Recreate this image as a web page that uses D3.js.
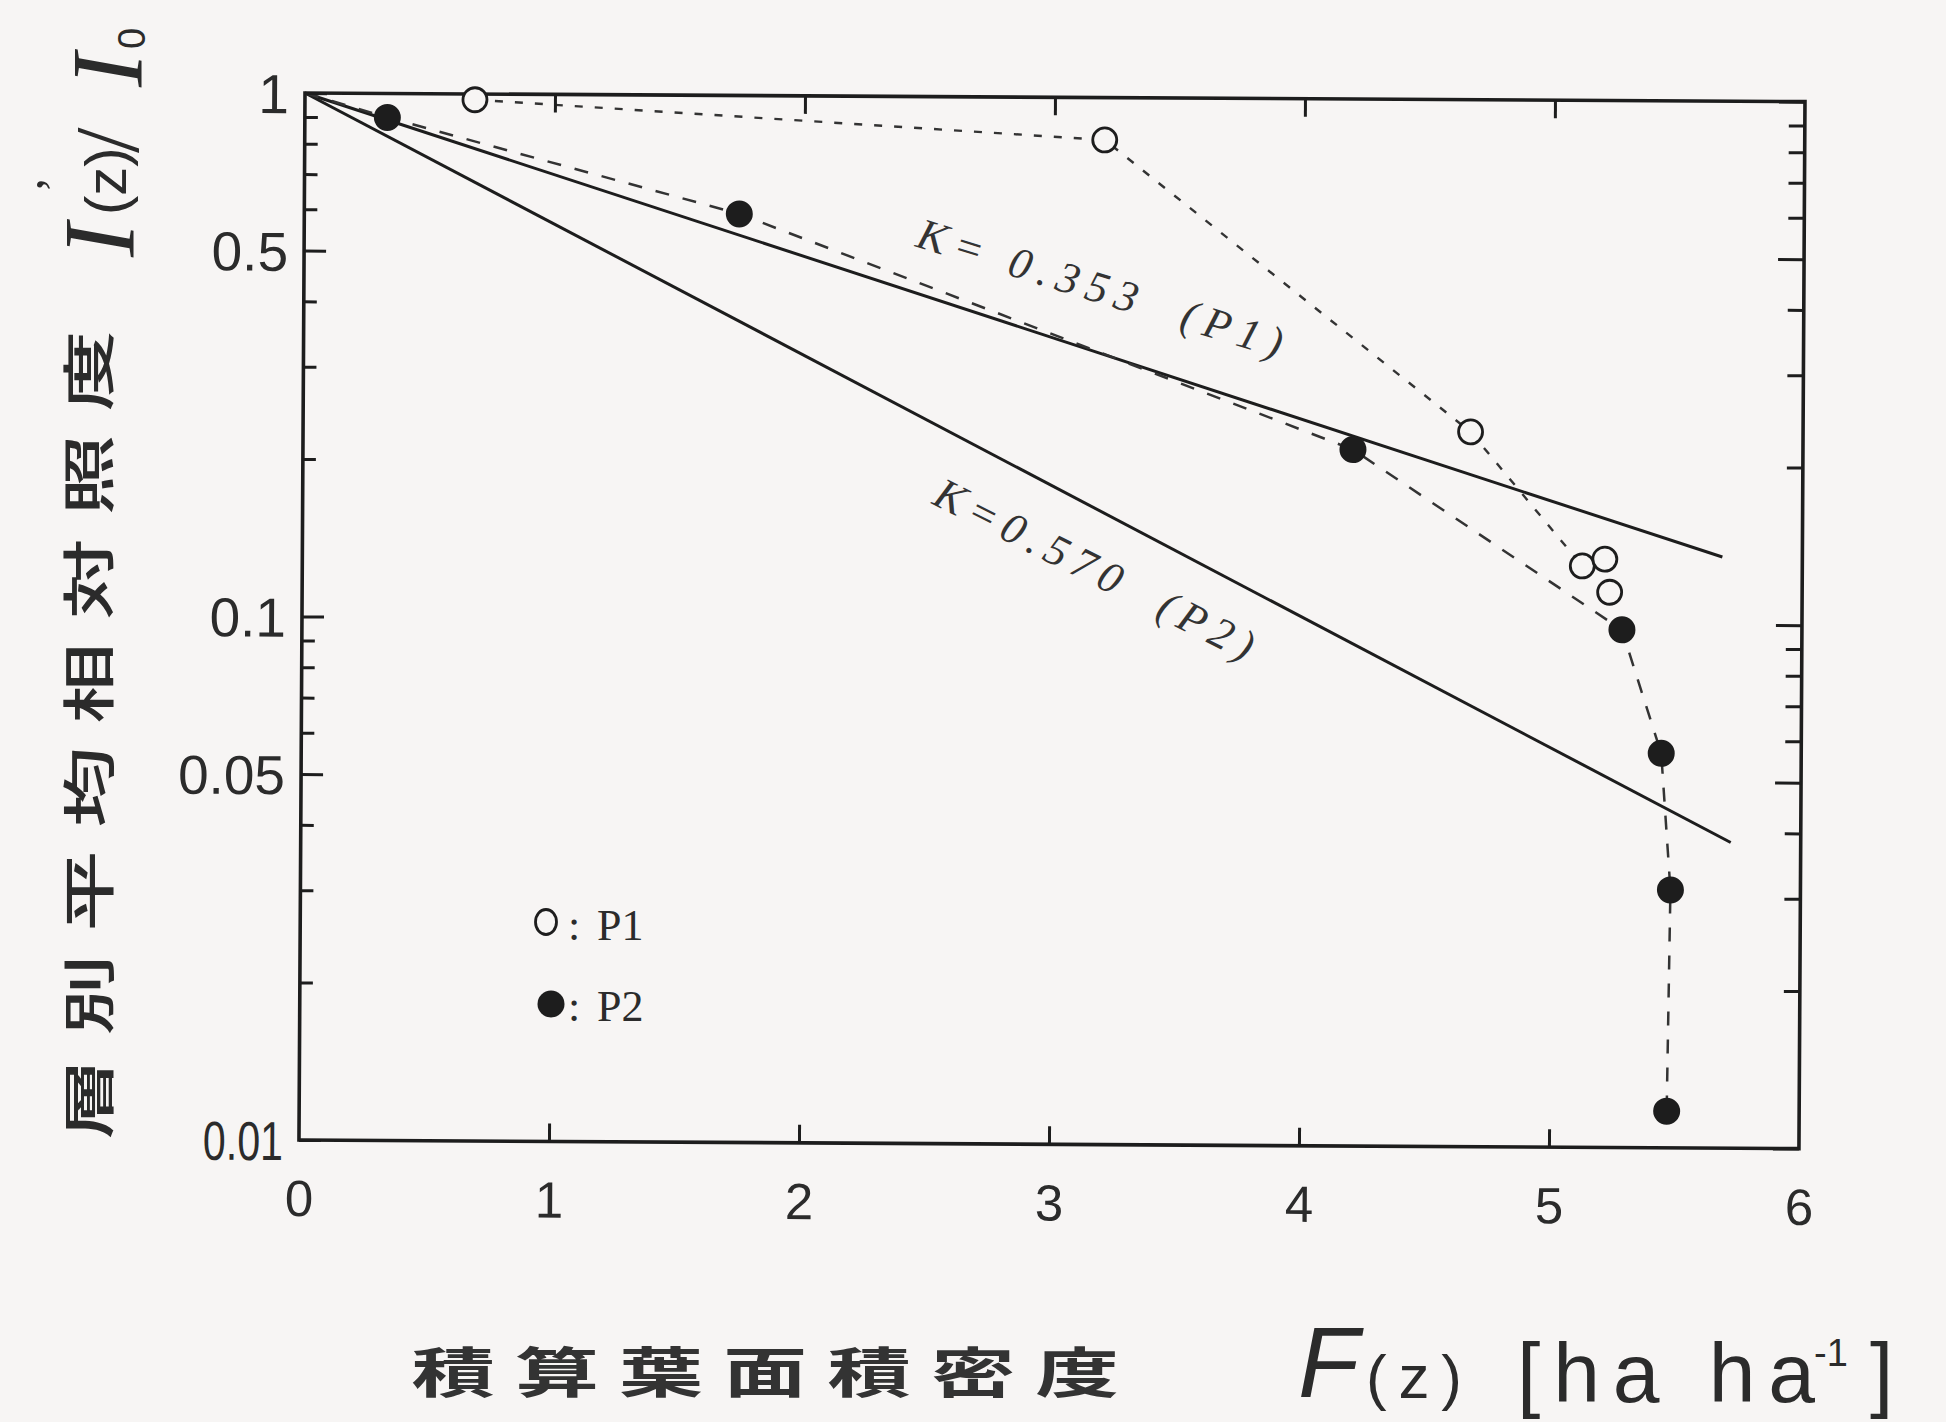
<!DOCTYPE html>
<html>
<head>
<meta charset="utf-8">
<script src="https://cdn.jsdelivr.net/npm/d3@7"></script>
<style>
  html, body { margin: 0; padding: 0; background: #f7f5f4; }
  svg { display: block; }
</style>
</head>
<body>
<svg id="chart" width="1946" height="1422"></svg>
<script>
// Plot P1 (open circles): cumulative leaf area index F(z) and relative light I(z)/I0
const p1F = [0.68, 3.20, 4.67, 5.12, 5.21, 5.23];
const p1I = [0.975, 0.83, 0.232, 0.129, 0.133, 0.115];

// Plot P2 (filled circles)
const p2F = [0.33, 1.74, 4.20, 5.28, 5.44, 5.48, 5.47];
const p2I = [0.90, 0.594, 0.214, 0.0975, 0.0567, 0.0311, 0.01175];

// Canopy top, where the P2 profile starts
const canopyTopF = 0;
const canopyTopI = 1;

// Beer-Lambert fits I/I0 = exp(-K F)
const kValues = [0.353, 0.570];
const kNames = ["K= 0.353  (P1)", "K=0.570  (P2)"];
const kEndF = [5.68, 5.72];
const kLabelF = [2.39, 2.64];

// Axis ticks
const xTicks = [0, 1, 2, 3, 4, 5, 6];
const xInnerTicks = [1, 2, 3, 4, 5];
const yMajorTicks = [1, 0.5, 0.1, 0.05, 0.01];
const yMinorTicks = [0.9, 0.8, 0.7, 0.6, 0.4, 0.3, 0.2, 0.09, 0.08, 0.07, 0.06, 0.04, 0.03, 0.02];

// Titles
const yTitleChars = ["層", "別", "平", "均", "相", "対", "照", "度"];
const xTitleChars = ["積", "算", "葉", "面", "積", "密", "度"];

const ink = "#1d1d1d";
const textInk = "#2b2b2b";
const paper = "#f7f5f4";

const svg = d3.select("#chart");
svg.append("rect").attr("width", 1946).attr("height", 1422).attr("fill", paper);

const plotLeft = 305, plotTop = 93, plotW = 1500, plotH = 1047;

const x = d3.scaleLinear().domain([0, 6]).range([0, plotW]);
const y = d3.scaleLog().domain([0.01, 1]).range([plotH, 0]);

// the whole frame sits very slightly turned clockwise
const g = svg.append("g").attr("transform", `translate(${plotLeft},${plotTop}) rotate(0.33)`);

// ---- fitted extinction lines ----
kValues.forEach((k, i) => {
  const pts = [0, kEndF[i]].map(f => [x(f), y(Math.exp(-k * f))]);
  g.append("path")
    .attr("d", d3.line()(pts))
    .attr("fill", "none")
    .attr("stroke", ink)
    .attr("stroke-width", 3);
});

// ---- measured profiles, dashed ----
const lineGen = d3.line().x(d => x(d[0])).y(d => y(d[1]));
const p1Pts = p1F.map((f, i) => [f, p1I[i]]);
const p2Pts = [[canopyTopF, canopyTopI]].concat(p2F.map((f, i) => [f, p2I[i]]));

g.append("path")
  .attr("d", lineGen(p1Pts))
  .attr("fill", "none")
  .attr("stroke", "#333")
  .attr("stroke-width", 2.4)
  .attr("stroke-dasharray", "8,12");

g.append("path")
  .attr("d", lineGen(p2Pts))
  .attr("fill", "none")
  .attr("stroke", "#333")
  .attr("stroke-width", 2.5)
  .attr("stroke-dasharray", "14,14");

// ---- frame and ticks ----
g.append("rect")
  .attr("x", 0).attr("y", 0)
  .attr("width", plotW).attr("height", plotH)
  .attr("fill", "none")
  .attr("stroke", ink)
  .attr("stroke-width", 3.6);

function styleAxis(sel) {
  sel.select(".domain").remove();
  sel.selectAll(".tick line").attr("stroke", ink).attr("stroke-width", 3);
}

const tickFont = "'Liberation Sans', Arial, sans-serif";

// bottom: inward ticks and labels 0..6
g.append("g")
  .attr("transform", `translate(0,${plotH})`)
  .call(d3.axisBottom(x).tickValues(xInnerTicks).tickSize(-18).tickFormat(""))
  .call(styleAxis);

g.append("g")
  .attr("transform", `translate(0,${plotH})`)
  .call(d3.axisBottom(x).tickValues(xTicks).tickSize(0).tickPadding(40).tickFormat(d3.format("d")))
  .call(styleAxis)
  .call(s => s.selectAll(".tick line").remove())
  .call(s => s.selectAll("text")
    .attr("font-family", tickFont)
    .attr("font-size", 51)
    .attr("fill", textInk));

// top: inward ticks
g.append("g")
  .call(d3.axisTop(x).tickValues(xInnerTicks).tickSize(-18).tickFormat(""))
  .call(styleAxis);

// left: major ticks with labels, minor ticks
g.append("g")
  .call(d3.axisLeft(y).tickValues(yMajorTicks).tickSize(-22).tickPadding(16)
    .tickFormat(d => String(d)))
  .call(styleAxis)
  .call(s => s.selectAll("text")
    .attr("font-family", tickFont)
    .attr("font-size", 55)
    .attr("fill", textInk)
    .attr("dy", "0.36em")
    .filter(d => d === 0.01)
    .attr("textLength", 80)
    .attr("lengthAdjust", "spacingAndGlyphs"));

g.append("g")
  .call(d3.axisLeft(y).tickValues(yMinorTicks).tickSize(-13).tickFormat(""))
  .call(styleAxis);

// right: mirrored ticks
g.append("g")
  .attr("transform", `translate(${plotW},0)`)
  .call(d3.axisRight(y).tickValues(yMajorTicks).tickSize(-26).tickFormat(""))
  .call(styleAxis);

g.append("g")
  .attr("transform", `translate(${plotW},0)`)
  .call(d3.axisRight(y).tickValues(yMinorTicks).tickSize(-16).tickFormat(""))
  .call(styleAxis);

// ---- markers ----
g.append("g").selectAll("circle")
  .data(p1Pts)
  .join("circle")
  .attr("cx", d => x(d[0]))
  .attr("cy", d => y(d[1]))
  .attr("r", 12)
  .attr("fill", paper)
  .attr("stroke", ink)
  .attr("stroke-width", 2.8);

g.append("g").selectAll("circle")
  .data(p2F.map((f, i) => [f, p2I[i]]))
  .join("circle")
  .attr("cx", d => x(d[0]))
  .attr("cy", d => y(d[1]))
  .attr("r", 13.5)
  .attr("fill", ink);

// ---- K labels along the fitted lines ----
const labelOffset = [-44, 72];
const labelLength = [380, 352];
kValues.forEach((k, i) => {
  const f0 = 0, f1 = kEndF[i];
  const ang = Math.atan2(y(Math.exp(-k * f1)) - y(Math.exp(-k * f0)), x(f1) - x(f0)) * 180 / Math.PI - 1;
  const fa = kLabelF[i];
  g.append("text")
    .attr("transform", `translate(${x(fa)},${y(Math.exp(-k * fa))}) rotate(${ang})`)
    .attr("x", 0).attr("y", labelOffset[i])
    .attr("xml:space", "preserve")
    .style("white-space", "pre")
    .attr("font-family", "'Liberation Serif', 'Times New Roman', serif")
    .attr("font-style", "italic")
    .attr("font-size", 44)
    .attr("textLength", labelLength[i])
    .attr("lengthAdjust", "spacing")
    .attr("fill", "#333")
    .text(kNames[i]);
});

// ---- legend ----
const lg = svg.append("g");
lg.append("ellipse").attr("cx", 546).attr("cy", 922).attr("rx", 10.5).attr("ry", 12.5)
  .attr("fill", "none").attr("stroke", ink).attr("stroke-width", 2.8);
lg.append("circle").attr("cx", 551).attr("cy", 1004).attr("r", 13.5).attr("fill", ink);
const legendFont = "'Liberation Serif', 'Times New Roman', serif";
[[940, "P1"], [1021, "P2"]].forEach(([by, name]) => {
  lg.append("text").attr("x", 568).attr("y", by).attr("font-family", legendFont)
    .attr("font-size", 44).attr("fill", textInk).text(":");
  lg.append("text").attr("x", 597).attr("y", by).attr("font-family", legendFont)
    .attr("font-size", 44).attr("fill", textInk).text(name);
});

// ---- y axis title (vertical, bottom to top) ----
const cjk = "'Noto Sans CJK JP', 'Noto Sans CJK SC', sans-serif";
yTitleChars.forEach((c, i) => {
  svg.append("text")
    .attr("transform", `translate(85,${1099 - 104 * i}) rotate(-90) scale(1.5,1)`)
    .attr("text-anchor", "middle")
    .attr("dominant-baseline", "central")
    .attr("font-family", cjk)
    .attr("font-weight", 500)
    .attr("font-size", 54)
    .attr("fill", textInk)
    .text(c);
});

// I'(z) / I0
const iq = svg.append("g").attr("transform", "translate(134,257) rotate(-90)");
const serif = "'Liberation Serif', 'Times New Roman', serif";
iq.append("text").attr("x", 0).attr("y", 0).attr("font-family", serif)
  .attr("font-style", "italic").attr("font-size", 102).attr("fill", textInk).text("I");
iq.append("text").attr("x", 64).attr("y", -64).attr("font-family", serif)
  .attr("font-size", 50).attr("fill", textInk).text("’");
iq.append("text").attr("x", 42).attr("y", -8).attr("font-family", "'Liberation Sans', Arial, sans-serif")
  .attr("font-size", 58).attr("fill", textInk).text("(z)");
iq.append("text").attr("x", 104).attr("y", 4).attr("font-family", serif)
  .attr("font-size", 92).attr("fill", textInk).text("/");
iq.append("text").attr("x", 170).attr("y", 8).attr("font-family", serif)
  .attr("font-style", "italic").attr("font-size", 102).attr("fill", textInk).text("I");
iq.append("text").attr("x", 208).attr("y", 11).attr("font-family", "'Liberation Sans', Arial, sans-serif")
  .attr("font-size", 38).attr("fill", textInk).text("0");

// ---- x axis title ----
xTitleChars.forEach((c, i) => {
  svg.append("text")
    .attr("transform", `translate(${453 + 104 * i},1369) scale(1.55,1)`)
    .attr("text-anchor", "middle")
    .attr("dominant-baseline", "central")
    .attr("font-family", cjk)
    .attr("font-weight", 700)
    .attr("font-size", 54)
    .attr("fill", "#333")
    .text(c);
});

const sans = "'Liberation Sans', Arial, sans-serif";
svg.append("text").attr("x", 1298).attr("y", 1397).attr("font-family", sans)
  .attr("font-style", "italic").attr("font-size", 100).attr("fill", textInk).text("F");
svg.append("text").attr("x", 1366).attr("y", 1398).attr("font-family", sans)
  .attr("font-size", 62).attr("fill", textInk)
  .attr("textLength", 96).attr("lengthAdjust", "spacing").text("(z)");
svg.append("text").attr("x", 1517).attr("y", 1402).attr("font-family", sans)
  .attr("font-size", 84).attr("fill", textInk)
  .attr("xml:space", "preserve").style("white-space", "pre")
  .attr("textLength", 298).attr("lengthAdjust", "spacing").text("[ha ha");
svg.append("text").attr("x", 1814).attr("y", 1366).attr("font-family", sans)
  .attr("font-size", 38).attr("fill", textInk).text("-1");
svg.append("text").attr("x", 1870).attr("y", 1402).attr("font-family", sans)
  .attr("font-size", 84).attr("fill", textInk).text("]");
</script>
</body>
</html>
